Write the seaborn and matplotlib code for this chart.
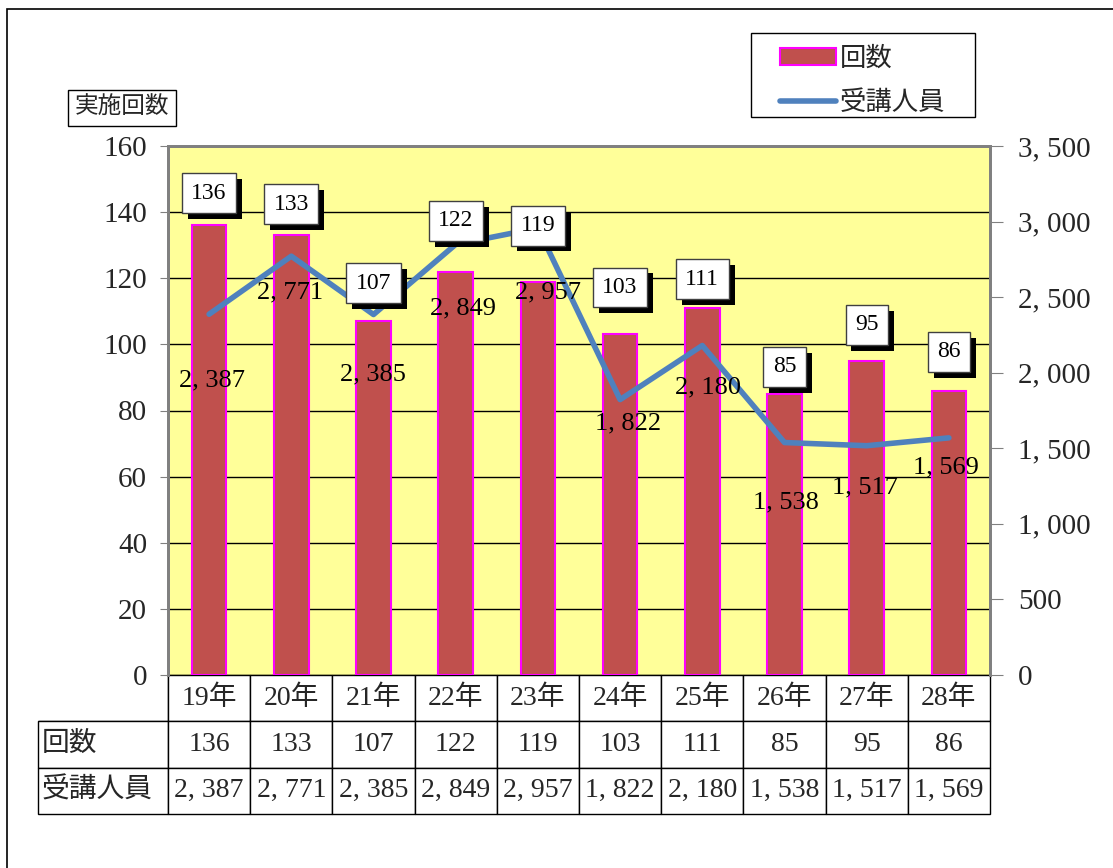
import numpy as np
import matplotlib
matplotlib.use("Agg")
import matplotlib.pyplot as plt
import matplotlib.patches as mpatches
import matplotlib.patheffects as pe
from matplotlib.lines import Line2D
from matplotlib.ticker import FuncFormatter
import seaborn as sns

# data
years = ["19年", "20年", "21年", "22年", "23年", "24年", "25年", "26年", "27年", "28年"]
counts = [136, 133, 107, 122, 119, 103, 111, 85, 95, 86]
persons = [2387, 2771, 2385, 2849, 2957, 1822, 2180, 1538, 1517, 1569]

# label placement (pixels), tuned by eye to the reference
bar_label_dy = [32, 31, 38, 51, 56, 47, 29, 27, 36, 39]
line_label_off = [(3, -66), (-1, -36), (-1, -60), (7, -64), (10, -64),
                  (8, -24), (6, -42), (1, -60), (-2, -42), (-3, -30)]

BAR = "#C0504D"
LINE = "#4F81BD"
GRAY = "#808080"

sns.set_style("white")
plt.rcParams["font.family"] = ["Liberation Serif", "Noto Sans CJK JP"]


def fmt(v):
    return f"{int(v):,}".replace(",", ", ")


fig = plt.figure(figsize=(11.13, 8.68), dpi=100)
W, H = 1113, 868
ax = fig.add_axes([168 / W, 1 - 675 / H, 822 / W, 529 / H])
ax.set_facecolor("#FFFF99")

sns.barplot(x=years, y=counts, ax=ax, color=BAR, edgecolor="#FF00FF",
            linewidth=1.5, width=0.42, saturation=1)
ax.set_ylim(0, 160)
ax.set_yticks(range(0, 161, 20))
ax.set_xlim(-0.5, len(years) - 0.5)
ax.grid(axis="y", color="black", linewidth=1)
ax.grid(axis="x", visible=False)
ax.set_axisbelow(True)
ax.set_xticks([])
ax.set_xlabel("")
ax.set_ylabel("")
ax.tick_params(axis="y", labelsize=21, length=6, color=GRAY, direction="out",
               left=True, pad=9)

ax2 = ax.twinx()
sns.lineplot(x=np.arange(len(years)), y=persons, ax=ax2, color=LINE,
             linewidth=4, solid_capstyle="round")
ax2.set_ylim(0, 3500)
ax2.set_yticks(range(0, 3501, 500))
ax2.yaxis.set_major_formatter(FuncFormatter(lambda v, p: fmt(v)))
ax2.set_ylabel("")
ax2.tick_params(axis="y", labelsize=21, length=9, color=GRAY, direction="out",
                right=True, pad=11)
ax2.set_xlim(-0.5, len(years) - 0.5)

for a in (ax, ax2):
    for s in ("left", "right", "top"):
        a.spines[s].set_color(GRAY)
        a.spines[s].set_linewidth(2)
    a.spines["bottom"].set_visible(False)

# bar value boxes with black drop shadow
for i, v in enumerate(counts):
    t = ax2.annotate(str(v), xy=(i, v), xycoords=ax.transData,
                     xytext=(0, bar_label_dy[i]), textcoords="offset pixels",
                     ha="center", va="center", fontsize=17, color="black",
                     bbox=dict(boxstyle="square,pad=0.4", fc="white", ec="#404040", lw=1))
    t.get_bbox_patch().set_path_effects(
        [pe.SimplePatchShadow(offset=(4.3, -4.3), shadow_rgbFace="black", alpha=1),
         pe.Normal()])

# line value labels
for i, v in enumerate(persons):
    dx, dy = line_label_off[i]
    ax2.annotate(fmt(v), xy=(i, v), xytext=(dx, dy), textcoords="offset pixels",
                 ha="center", va="center", fontsize=19, color="black")

# data table below the plot
rows = [[""] + years,
        ["回数"] + [str(c) for c in counts],
        ["受講人員"] + [fmt(p) for p in persons]]
lab_w = 130 / 822
col_w = [lab_w] + [1 / len(years)] * len(years)
tb = ax.table(cellText=rows, colWidths=col_w, cellLoc="center",
              bbox=[-lab_w, -139 / 529, 1 + lab_w, 139 / 529])
tb.auto_set_font_size(False)
for (r, c), cell in tb.get_celld().items():
    cell.set_fontsize(20)
    cell.set_linewidth(1)
    cell.set_edgecolor("black")
    if c == 0:
        cell.get_text().set_ha("left")
        cell.PAD = 0.03
    if r == 0 and c == 0:
        cell.visible_edges = "BR"

# "実施回数" axis caption
fig.text(122 / W, 1 - 108 / H, "実施回数", ha="center", va="center", fontsize=17,
         bbox=dict(boxstyle="square,pad=0.3", fc="white", ec="black", lw=1))

# legend (frame drawn separately to match the reference box)
handles = [mpatches.Patch(facecolor=BAR, edgecolor="#FF00FF", linewidth=1.5),
           Line2D([0], [0], color=LINE, linewidth=4, solid_capstyle="round")]
fig.legend(handles, ["回数", "受講人員"], loc="upper left",
           bbox_to_anchor=(762 / W, 1 - 28 / H), fontsize=19,
           frameon=False, handlelength=2.1, handleheight=0.6, borderpad=0.2,
           labelspacing=0.72, handletextpad=0.15)
fig.patches.append(mpatches.Rectangle((751 / W, 1 - 117 / H), 224 / W, 84 / H,
                                      fill=False, ec="black", lw=1,
                                      transform=fig.transFigure))

# outer chart border
fig.patches.append(mpatches.Rectangle((7 / W, -0.5), 2, 1.5 - 9 / H, fill=False,
                                      ec="black", lw=1.2, transform=fig.transFigure))

fig.savefig("out.png", dpi=100)
